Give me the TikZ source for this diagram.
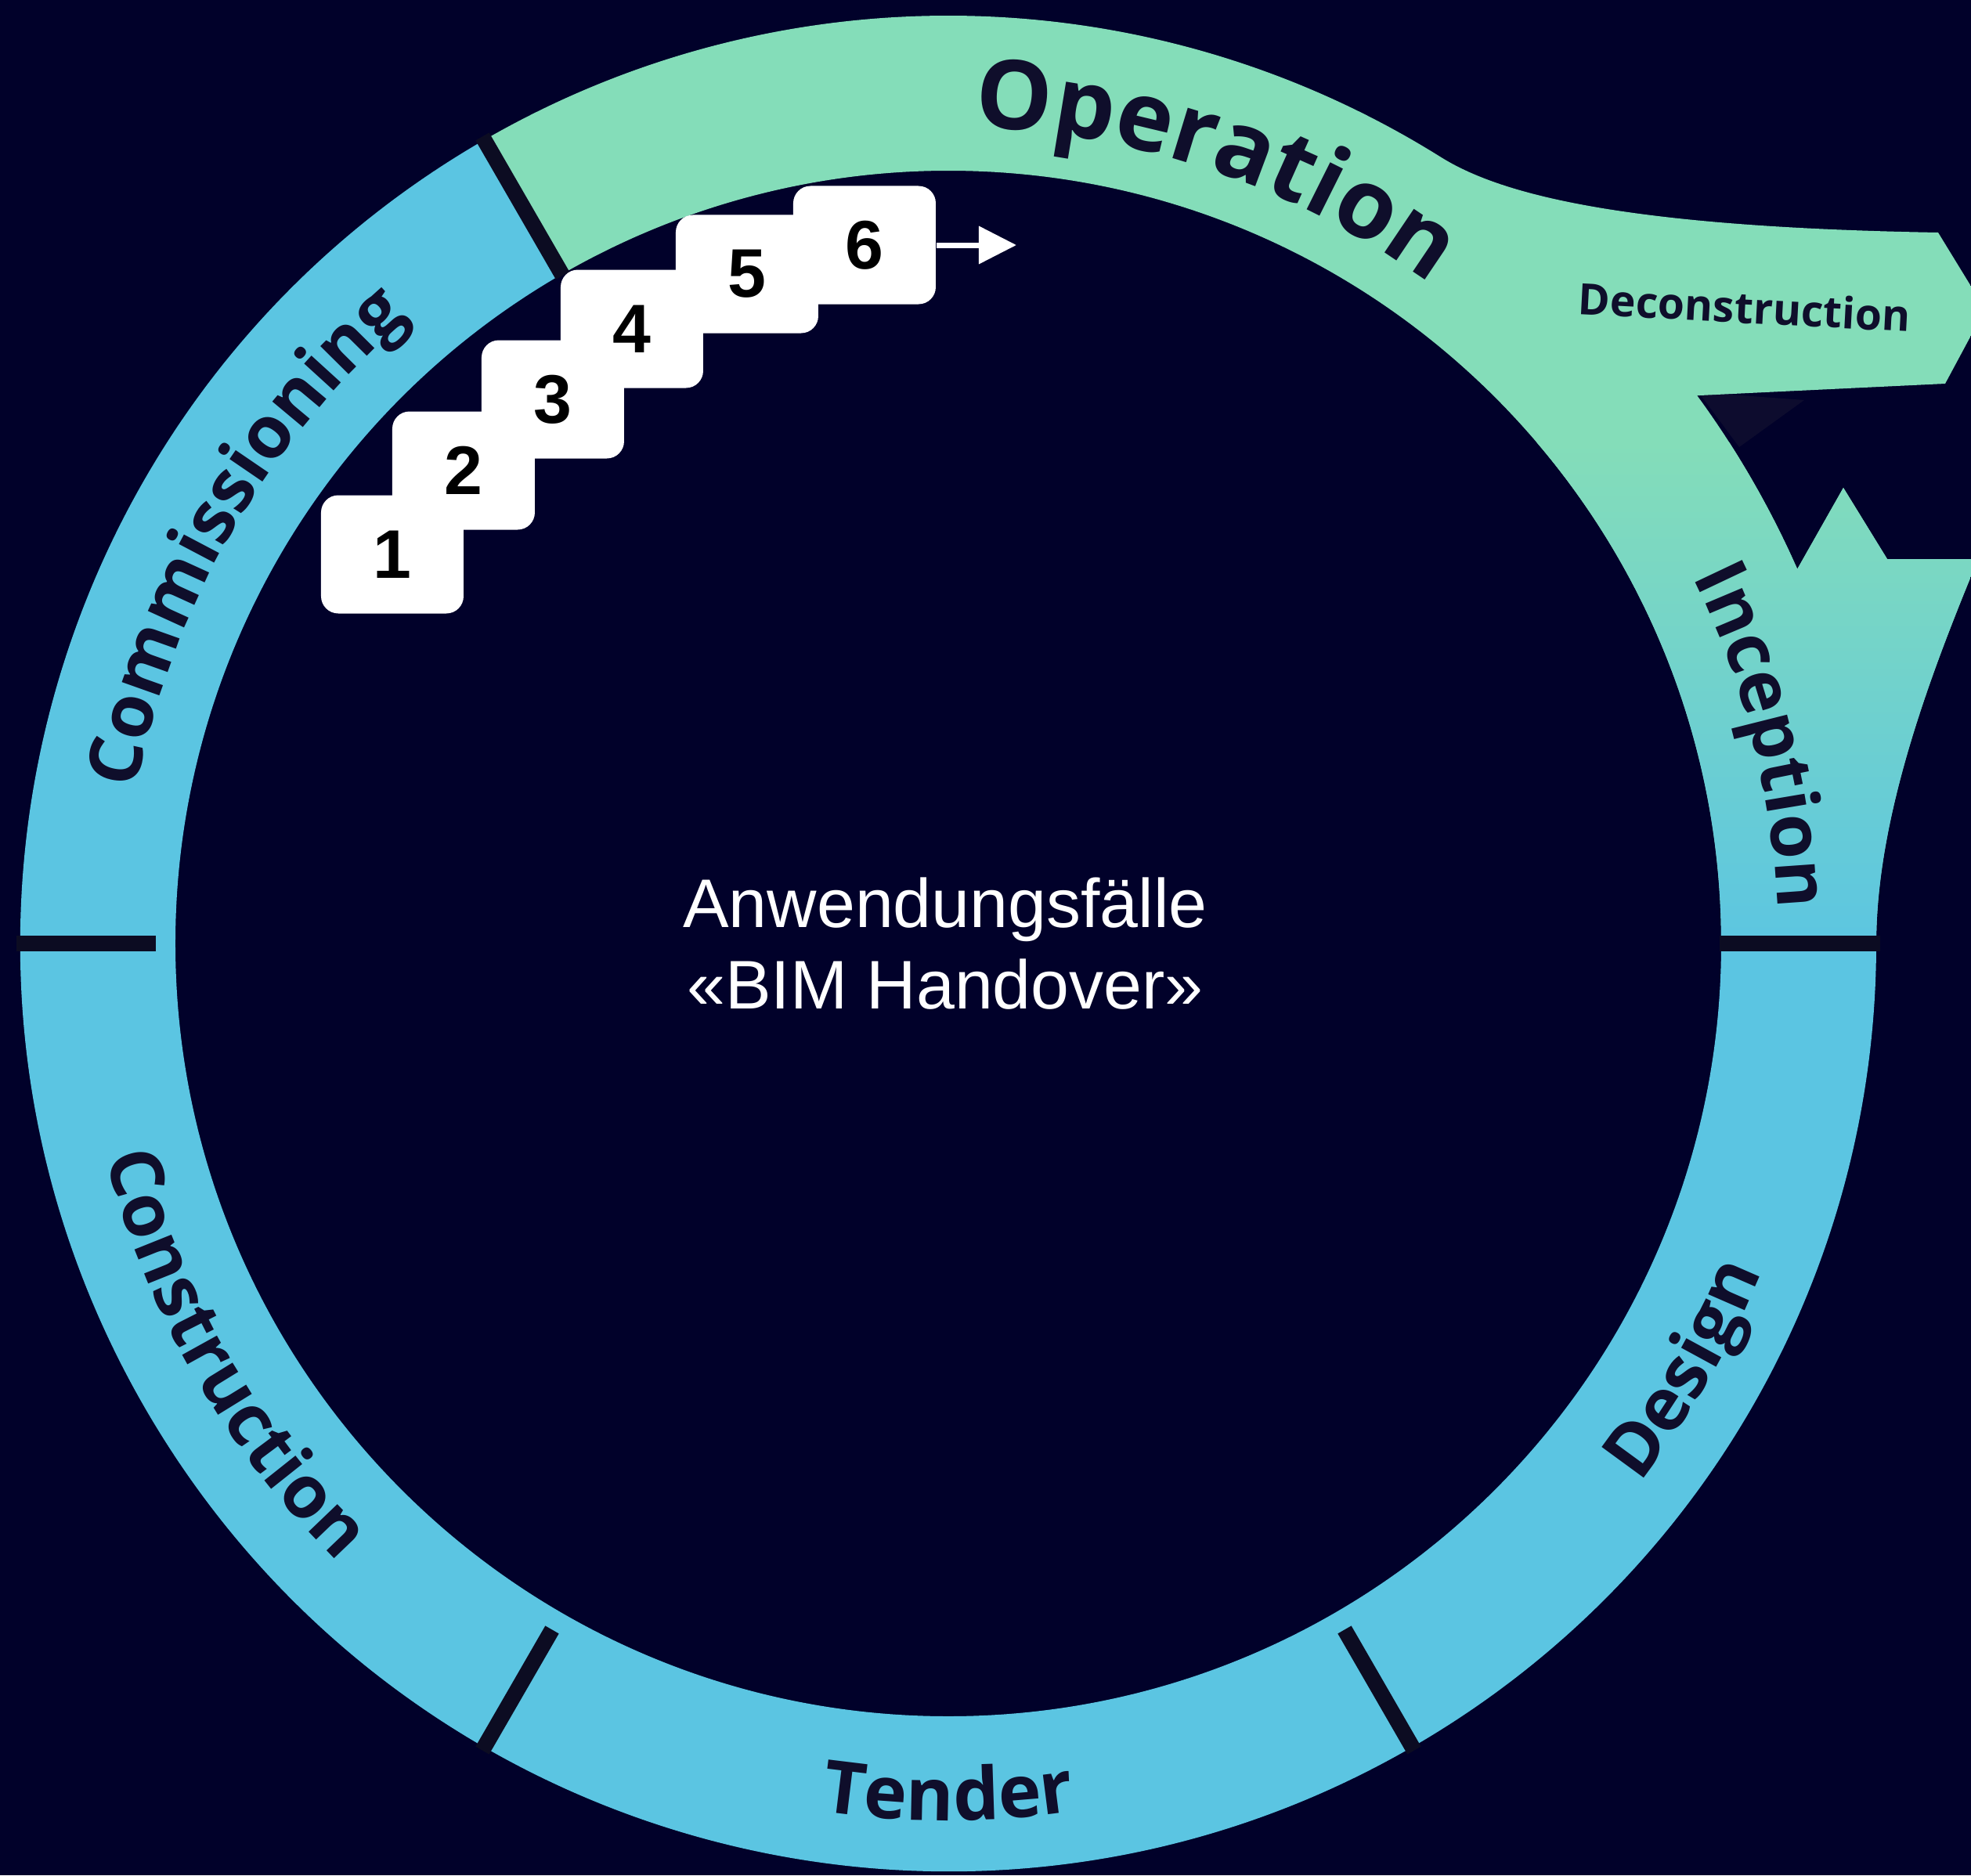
\documentclass[tikz,border=0pt]{standalone}
\usepackage{fontspec}
\usetikzlibrary{arrows.meta,decorations.text}

\newfontfamily\phasefont{Open Sans}
\newfontfamily\plainfont{Liberation Sans}
\newcommand\phasebig{\phasefont\bfseries\fontsize{35}{35}\selectfont}
\newcommand\phasemid{\phasefont\bfseries\fontsize{26.5}{26.5}\selectfont}
\newcommand\phasesmall{\phasefont\bfseries\fontsize{15.7}{16}\selectfont}

\definecolor{bgnavy}{HTML}{01012A}
\definecolor{ringblue}{HTML}{5BC5E2}
\definecolor{opgreen}{HTML}{84DDB9}
\definecolor{labelnavy}{HTML}{0F0E2B}
\definecolor{barnavy}{HTML}{0C0C22}
\definecolor{notchshade}{HTML}{0D0C2E}

\begin{document}
\begin{tikzpicture}[scale=1]
        \def\Ro{11.85}
        \def\Ri{9.87}
        \tikzset{
            phase label/.style={
                decorate,
                decoration={text along path, text align=center, text color=labelnavy, text={#1}}
            },
            phase bar/.style={draw=barnavy, line width=0.2cm},
            step box/.style={fill=white, rounded corners=0.22cm, minimum width=1.82cm, minimum height=1.51cm, inner sep=0pt},
            step number/.style={font=\plainfont\bfseries\fontsize{25}{25}\selectfont, text=black},
            flow arrow/.style={draw=white, line width=0.07cm, -{Triangle[length=0.48cm, width=0.47cm]}},
        }

        % background and page size
        \fill[bgnavy] (-12.11,-11.90) rectangle (13.06,12.05);
        \useasboundingbox (-12.11,-11.90) rectangle (13.06,12.05);

        % blue part of the ring (commissioning to design)
        \fill[ringblue] (120:\Ro) arc[start angle=120, end angle=360, radius=\Ro]
            -- (0:\Ri) arc[start angle=360, end angle=120, radius=\Ri] -- cycle;

        % shadow in the notch
        \fill[notchshade] (9.58,7.04) -- (10.93,6.94) -- (10.10,6.34) -- cycle;

        % green part: operation, deconstruction branch, inception
        \path[save path=\greenband] (120:\Ro) arc[start angle=120, end angle=58, radius=\Ro]
            .. controls (7.04,9.57) and (8.6,9.15) .. (12.64,9.08)
            -- (13.24,8.10) -- (12.73,7.15) -- (36.2:\Ro)
            arc[start angle=36.2, end angle=23.8, radius=\Ro]
            -- (11.43,5.82) -- (11.99,4.91) -- (13.15,4.91)
            .. controls (12.62,3.62) and (11.85,1.7) .. (0:\Ro)
            -- (0:\Ri) arc[start angle=0, end angle=120, radius=\Ri] -- cycle;
        \begin{scope}
            \clip[use path=\greenband];
            \fill[opgreen] (-7,-0.2) rectangle (13.5,12.6);
            \shade[top color=opgreen, bottom color=ringblue] (6,-0.2) rectangle (13.5,6.4);
        \end{scope}

        % separators between the phases
        \foreach \a/\r in {0/9.85, 120/9.85, 180/10.12, 240/10.12, 300/10.12} {
            \draw[phase bar] (\a:\r) -- (\a:11.9);
        }

        % phase names along the ring
        \path[phase label={|\phasebig|Operation}] (111:10.43) arc[start angle=111, end angle=31, radius=10.43];
        \path[phase label={|\phasemid|Commissioning}] (190:10.55) arc[start angle=190, end angle=110, radius=10.55];
        \path[phase label={|\phasemid|Inception}] (54.3:10.6) arc[start angle=54.3, end angle=-25.7, radius=10.6];
        \path[phase label={|\phasemid|Design}] (-70:11.2) arc[start angle=-70, end angle=10, radius=11.2];
        \path[phase label={|\phasemid|Tender}] (230:11.2) arc[start angle=230, end angle=310, radius=11.2];
        \path[phase label={|\phasemid|Construction}] (169.8:11.1) arc[start angle=169.8, end angle=249.8, radius=11.1];
        \node[rotate=-3, text=labelnavy, font=\phasesmall] (decolabel) at (10.17,8.13) {Deconstruction};

        % use case steps
        \foreach \n/\x/\y in {1/-7.10/4.97, 2/-6.19/6.04, 3/-5.05/6.95, 4/-4.04/7.85, 5/-2.57/8.55, 6/-1.07/8.92} {
            \node[step box] (box\n) at (\x,\y) {};
        }
        \foreach \n in {1,...,6} {
            \node[step number] (num\n) at (box\n) {\n};
        }
        \coordinate (flowend) at (0.87,8.92);
        \draw[flow arrow] (box6.east) -- (flowend);

        % title in the middle
        \node[text=white, align=center, font=\plainfont\fontsize{25}{29.6}\selectfont] (usecases) at (-0.04,0) {Anwendungsfälle\\«BIM Handover»};
\end{tikzpicture}
\end{document}
